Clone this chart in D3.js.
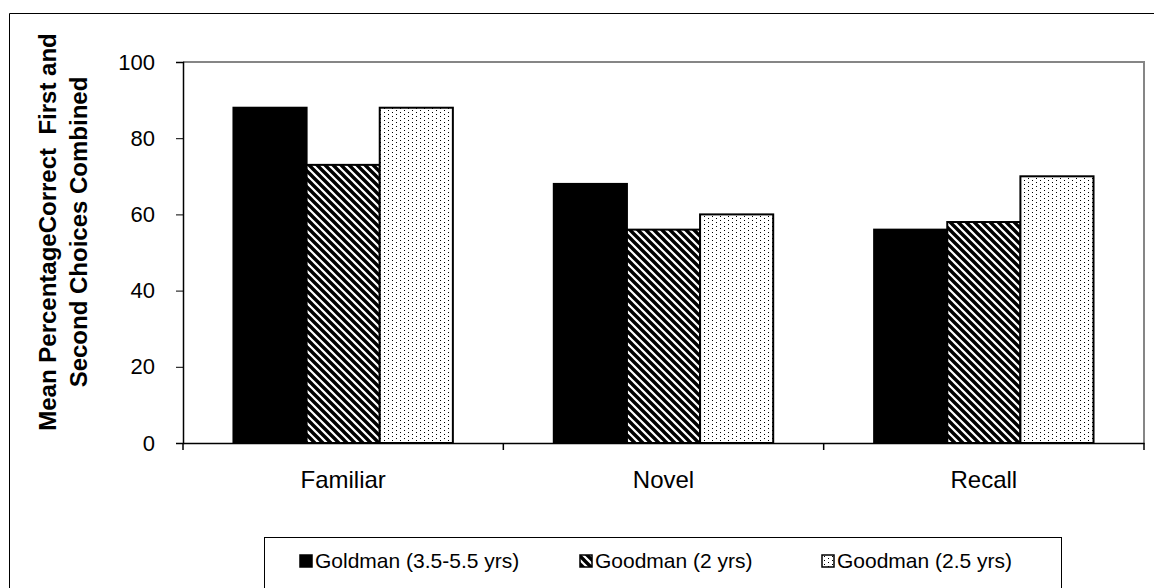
<!DOCTYPE html>
<html><head><meta charset="utf-8">
<script src="https://cdn.jsdelivr.net/npm/d3@7"></script>
<style>body{margin:0;background:#fff}svg{display:block}text{font-family:"Liberation Sans",Arial,sans-serif}</style>
</head><body>
<svg id="c" width="1154" height="588"></svg>
<script>
const categories = ["Familiar", "Novel", "Recall"];
const seriesNames = ["Goldman (3.5-5.5 yrs)", "Goodman (2 yrs)", "Goodman (2.5 yrs)"];
const goldman = [88, 68, 56];
const goodman2 = [73, 56, 58];
const goodman25 = [88, 60, 70];
const yTicks = [0, 20, 40, 60, 80, 100];
const yTitle = ["Mean PercentageCorrect  First and", "Second Choices Combined"];

(function () {
const series = [goldman, goodman2, goodman25];
const fills = ["#000", "url(#hatch)", "url(#dots)"];

const svg = d3.select("#c");
const defs = svg.append("defs");
const hp = defs.append("pattern").attr("id", "hatch").attr("patternUnits", "userSpaceOnUse")
  .attr("width", 8).attr("height", 8);
hp.append("rect").attr("width", 8).attr("height", 8).attr("fill", "#fff");
hp.append("path").attr("d", "M-2,-2L10,10M-2,6L2,10M6,-2L10,2").attr("stroke", "#000").attr("stroke-width", 3.4);
const dp = defs.append("pattern").attr("id", "dots").attr("patternUnits", "userSpaceOnUse")
  .attr("width", 8).attr("height", 8);
dp.append("rect").attr("width", 8).attr("height", 8).attr("fill", "#fff");
[[0,0],[4,2],[0,4],[4,6]].forEach(([x,y]) => dp.append("rect").attr("x", x).attr("y", y).attr("width", 1).attr("height", 1).attr("fill", "#000"));

svg.append("path").attr("d", "M9.5,588V13.5H1154").attr("fill", "none").attr("stroke", "#000").attr("stroke-width", 1);

const pl = 183, pr = 1144, pt = 62, pb = 443;
const x0 = d3.scaleBand().domain(categories).range([pl, pr]).paddingInner(0).paddingOuter(0);
const x1 = d3.scaleBand().domain(d3.range(3)).range([0, x0.bandwidth()]).paddingOuter(0.69).paddingInner(0);
const y = d3.scaleLinear().domain([0, 100]).range([pb, pt]);

svg.append("path").attr("d", `M${pl},${pt}H${pr}V${pb}`).attr("fill", "none").attr("stroke", "#868686").attr("stroke-width", 2);

categories.forEach((c, ci) => {
  series.forEach((s, si) => {
    svg.append("rect")
      .attr("x", x0(c) + x1(si)).attr("y", y(s[ci]))
      .attr("width", x1.bandwidth()).attr("height", y(0) - y(s[ci]))
      .attr("fill", fills[si]).attr("stroke", "#000").attr("stroke-width", 2);
  });
});

const ya = svg.append("g").attr("transform", `translate(${pl},0)`)
  .call(d3.axisLeft(y).tickValues(yTicks).tickSize(7).tickPadding(21));
ya.select(".domain").attr("stroke", "#000").attr("stroke-width", 1.5);
ya.selectAll(".tick line").attr("stroke", "#000");
ya.selectAll("text").attr("font-size", 22).attr("fill", "#000").style("font-family", "Liberation Sans, Arial");

const xa = svg.append("g").attr("transform", `translate(0,${pb})`)
  .call(d3.axisBottom(x0).tickSize(0).tickPadding(28));
xa.select(".domain").attr("stroke", "#000").attr("stroke-width", 1.5);
xa.selectAll("text").attr("font-size", 24).attr("fill", "#000").style("font-family", "Liberation Sans, Arial");
const bounds = [pl, ...categories.map(c => x0(c) + x0.bandwidth())];
svg.selectAll(".xt").data(bounds).join("line").attr("class", "xt")
  .attr("x1", d => d).attr("x2", d => d).attr("y1", pb).attr("y2", pb + 7)
  .attr("stroke", "#000").attr("stroke-width", 1.5);

const yt = svg.append("text").attr("transform", `translate(0,232) rotate(-90)`)
  .attr("text-anchor", "middle").attr("font-size", 24).attr("font-weight", "bold")
  .style("white-space", "pre");
yTitle.forEach((t, i) => yt.append("tspan").attr("x", 0).attr("y", i === 0 ? 56 : 87).text(t));

const lg = svg.append("g");
lg.append("rect").attr("x", 264.5).attr("y", 537.5).attr("width", 797).attr("height", 70)
  .attr("fill", "#fff").attr("stroke", "#000");
const lx = [300, 580, 822];
seriesNames.forEach((n, i) => {
  lg.append("rect").attr("x", lx[i]).attr("y", 555).attr("width", 12).attr("height", 12)
    .attr("fill", fills[i]).attr("stroke", "#000").attr("stroke-width", 1.5);
  lg.append("text").attr("x", lx[i] + 15).attr("y", 568).attr("font-size", 21).text(n);
});
})();
</script>
</body></html>
